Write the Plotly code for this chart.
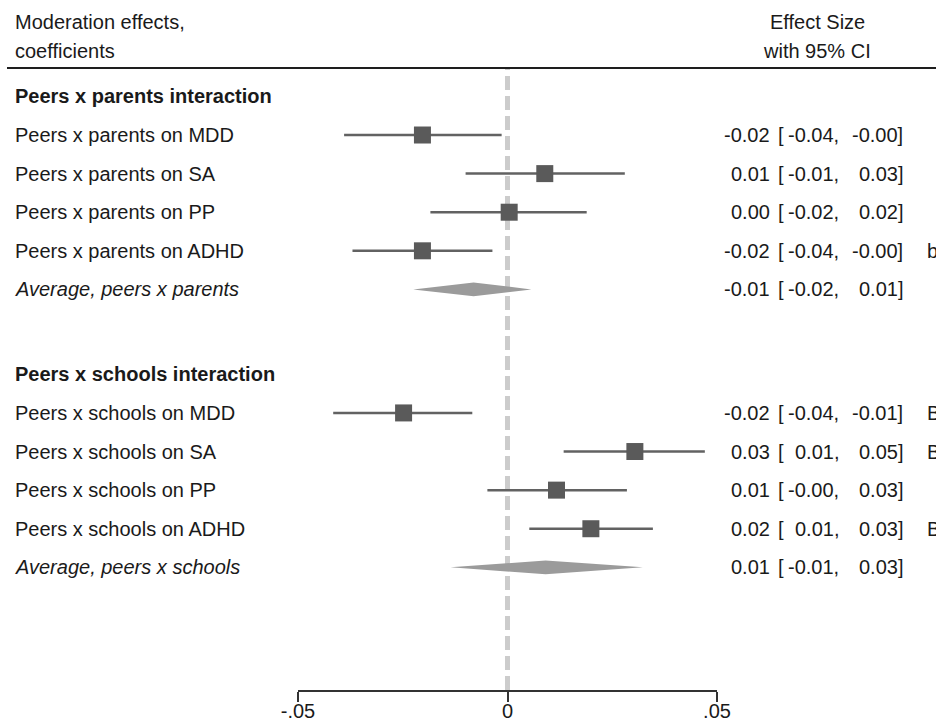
import plotly.graph_objects as go

# ---------------- data ----------------
parents_labels = ["Peers x parents on MDD", "Peers x parents on SA", "Peers x parents on PP",
                  "Peers x parents on ADHD"]
parents_est = [-0.0203, 0.0089, 0.0004, -0.0203]
parents_lo = [-0.0390, -0.0100, -0.0184, -0.0370]
parents_hi = [-0.0014, 0.0280, 0.0189, -0.0036]
parents_flag = ["", "", "", "b"]
parents_avg = (-0.0081, -0.0225, 0.0057)  # est, lo, hi

schools_labels = ["Peers x schools on MDD", "Peers x schools on SA", "Peers x schools on PP",
                  "Peers x schools on ADHD"]
schools_est = [-0.0248, 0.0304, 0.0117, 0.0199]
schools_lo = [-0.0416, 0.0134, -0.0048, 0.0052]
schools_hi = [-0.0084, 0.0471, 0.0285, 0.0347]
schools_flag = ["B", "B", "", "B"]
schools_avg = (0.0091, -0.0136, 0.0323)

group_titles = ["Peers x parents interaction", "Peers x schools interaction"]
avg_labels = ["Average, peers x parents", "Average, peers x schools"]
tick_vals = [-0.05, 0, 0.05]
tick_text = ["-.05", "0", ".05"]

# ---------------- layout helpers ----------------
FONT = "Liberation Sans, Arial, Helvetica, sans-serif"
FS = 20
TXT = "#1a1a1a"
W, H = 936, 722
TOP, BOT = 68, 690          # plot area (pixels)
group_start = [0.0, 7.2]    # row index of group header
DIAMOND_HALF = 0.18

fig = go.Figure()
annotations = []


def py_paper(py):
    return (BOT - py) / (BOT - TOP)


def ann(px, y, text, anchor="left", yref="y", **font):
    f = dict(family=FONT, size=FS, color=TXT)
    f.update(font)
    annotations.append(dict(x=px / W, xref="paper", y=y, yref=yref, text=text,
                            showarrow=False, xanchor=anchor, yanchor="middle", font=f))


groups = [
    (parents_labels, parents_est, parents_lo, parents_hi, parents_flag, parents_avg),
    (schools_labels, schools_est, schools_lo, schools_hi, schools_flag, schools_avg),
]

for g, (labels, est, lo, hi, flags, avg) in enumerate(groups):
    y0 = group_start[g]
    ann(13, y0, "<b>" + group_titles[g] + "</b>")
    rows = [y0 + 1 + i for i in range(len(labels))]
    xs, ys = [], []
    for r, a, b in zip(rows, lo, hi):
        xs += [a, b, None]
        ys += [r, r, None]
    fig.add_trace(go.Scatter(x=xs, y=ys, mode="lines",
                             line=dict(color="#626262", width=2.5), hoverinfo="skip"))
    fig.add_trace(go.Scatter(x=est, y=rows, mode="markers",
                             marker=dict(symbol="square", size=17, color="#5a5a5a",
                                         line=dict(width=0)), cliponaxis=False))
    ry = y0 + 1 + len(labels)
    e, a, b = avg
    fig.add_trace(go.Scatter(x=[a, e, b, e, a], y=[ry, ry - DIAMOND_HALF, ry, ry + DIAMOND_HALF, ry],
                             mode="lines", fill="toself", fillcolor="#9b9b9b",
                             line=dict(width=0, color="#9b9b9b"), hoverinfo="skip"))
    all_rows = rows + [ry]
    all_labels = labels + [avg_labels[g]]
    all_est = est + [e]
    all_lo = lo + [a]
    all_hi = hi + [b]
    all_flag = flags + [""]
    for r, lab, es, l, h, fl in zip(all_rows, all_labels, all_est, all_lo, all_hi, all_flag):
        ann(13, r, lab if r != ry else "<i>" + lab + "</i>")
        ann(772, r, f"{es:.2f}", anchor="right")
        ann(776, r, "[", anchor="left")
        ann(841, r, f"{l:.2f},", anchor="right")
        ann(905, r, f"{h:.2f}]", anchor="right")
        if fl:
            ann(925, r, fl, anchor="left")

# headers (above plot area)
ann(13, py_paper(22), "Moderation effects,", yref="paper")
ann(13, py_paper(51), "coefficients", yref="paper")
ann(817, py_paper(22), "Effect Size", anchor="center", yref="paper")
ann(817, py_paper(51), "with 95% CI", anchor="center", yref="paper")

shapes = [
    dict(type="line", xref="paper", yref="paper", x0=7 / W, x1=1, y0=1, y1=1,
         line=dict(color="#1e1e1e", width=2)),
    dict(type="line", xref="x", yref="paper", x0=0, x1=0, y0=0, y1=1,
         line=dict(color="#cccccc", width=5, dash="14px,6px"), layer="below"),
]

fig.update_layout(
    width=W, height=H,
    margin=dict(l=0, r=0, t=TOP, b=H - BOT, autoexpand=False),
    plot_bgcolor="white", paper_bgcolor="white",
    showlegend=False,
    annotations=annotations,
    shapes=shapes,
    xaxis=dict(domain=[298 / W, 717 / W], range=[-0.05, 0.05],
               tickvals=tick_vals, ticktext=tick_text,
               showline=True, linecolor="#333333", linewidth=1.5,
               ticks="outside", ticklen=10, tickwidth=1.5, tickcolor="#333333",
               ticklabelstandoff=-8,
               showgrid=False, zeroline=False, automargin=False,
               tickfont=dict(family=FONT, size=FS, color=TXT)),
    yaxis=dict(range=[15.378, -0.736], visible=False, showgrid=False, zeroline=False,
               automargin=False),
)

fig.write_html("out.html", config={"displayModeBar": False},
               post_script="document.body.style.margin='0';document.body.style.overflow='hidden';")
